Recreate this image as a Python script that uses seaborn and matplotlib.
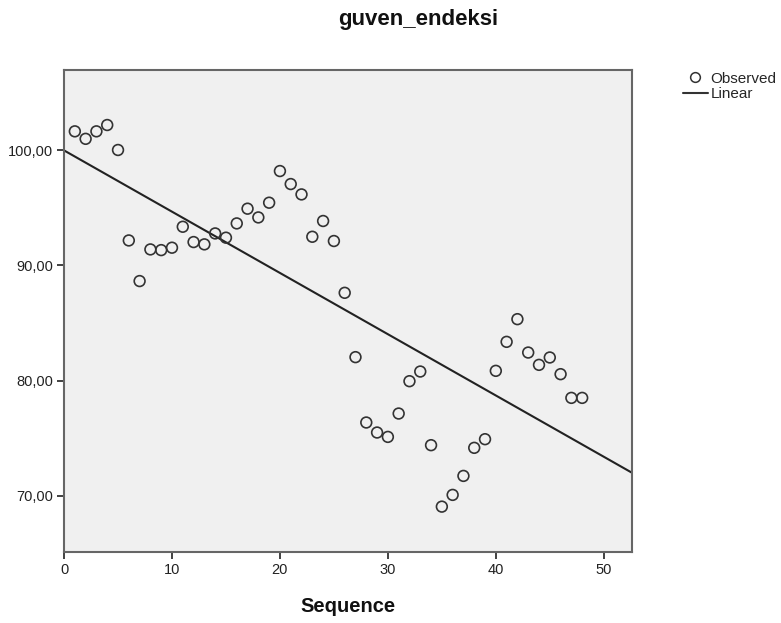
import numpy as np
import pandas as pd
import matplotlib
matplotlib.use("Agg")
import matplotlib.pyplot as plt
import seaborn as sns
from matplotlib.lines import Line2D
from matplotlib.ticker import FuncFormatter

sequence = list(range(1, 49))
guven_endeksi = [
    101.65, 101.0, 101.65, 102.2, 100.03, 92.17, 88.64, 91.39, 91.33, 91.54,
    93.36, 92.03, 91.83, 92.78, 92.41, 93.65, 94.93, 94.17, 95.45, 98.2,
    97.07, 96.17, 92.49, 93.86, 92.12, 87.62, 82.03, 76.35, 75.48, 75.1,
    77.13, 79.94, 80.78, 74.38, 69.04, 70.06, 71.71, 74.15, 74.9, 80.84,
    83.36, 85.33, 82.43, 81.36, 82.0, 80.55, 78.49, 78.49,
]
x_ticks = [0, 10, 20, 30, 40, 50]
y_ticks = [70, 80, 90, 100]

df = pd.DataFrame({"Sequence": sequence, "guven_endeksi": guven_endeksi})

sns.set_theme(style="white")
plt.rcParams["font.family"] = ["Liberation Sans", "DejaVu Sans"]

fig = plt.figure(figsize=(7.81, 6.23), dpi=100)
ax = fig.add_axes([0.082, 0.114, 0.727, 0.774])
ax.set_facecolor("#F0F0F0")

# linear fit over the full axis range
ax.set_xlim(0, 52.6)
sns.regplot(data=df, x="Sequence", y="guven_endeksi", ax=ax, ci=None,
            truncate=False, scatter=False,
            line_kws=dict(color="#222222", lw=1.5))
sns.scatterplot(data=df, x="Sequence", y="guven_endeksi", ax=ax,
                marker="o", s=60, facecolor="none", edgecolor="#333333",
                linewidth=1.2, zorder=3)
ax.set_xlim(0, 52.6)
ax.set_ylim(65.1, 107.0)

ax.set_xticks(x_ticks)
ax.set_yticks(y_ticks)
ax.yaxis.set_major_formatter(FuncFormatter(lambda v, p: f"{v:.2f}".replace(".", ",")))
ax.tick_params(axis="both", which="both", direction="out", length=5, width=1.3,
               color="#333333", labelsize=10.5, labelcolor="#222222",
               bottom=True, left=True, top=False, right=False, pad=3)

for s in ax.spines.values():
    s.set_color("#666666")
    s.set_linewidth(1.5)
    s.set_visible(True)

ax.set_xlabel("Sequence", fontsize=14.5, fontweight="bold", color="#111111", labelpad=14)
ax.set_ylabel("")
fig.text(0.536, 0.986, "guven_endeksi", ha="center", va="top",
         fontsize=16, fontweight="bold", color="#111111")

handles = [
    Line2D([], [], marker="o", linestyle="none", markerfacecolor="none",
           markeredgecolor="#333333", markersize=7, markeredgewidth=1.1),
    Line2D([], [], color="#333333", lw=1.5),
]
fig.legend(handles, ["Observed", "Linear"], loc="upper left",
           bbox_to_anchor=(0.867, 0.895), frameon=False, fontsize=11,
           handlelength=1.6, handletextpad=0.2, labelspacing=0.1,
           borderaxespad=0)

fig.savefig("out.png", dpi=100, facecolor="white")
